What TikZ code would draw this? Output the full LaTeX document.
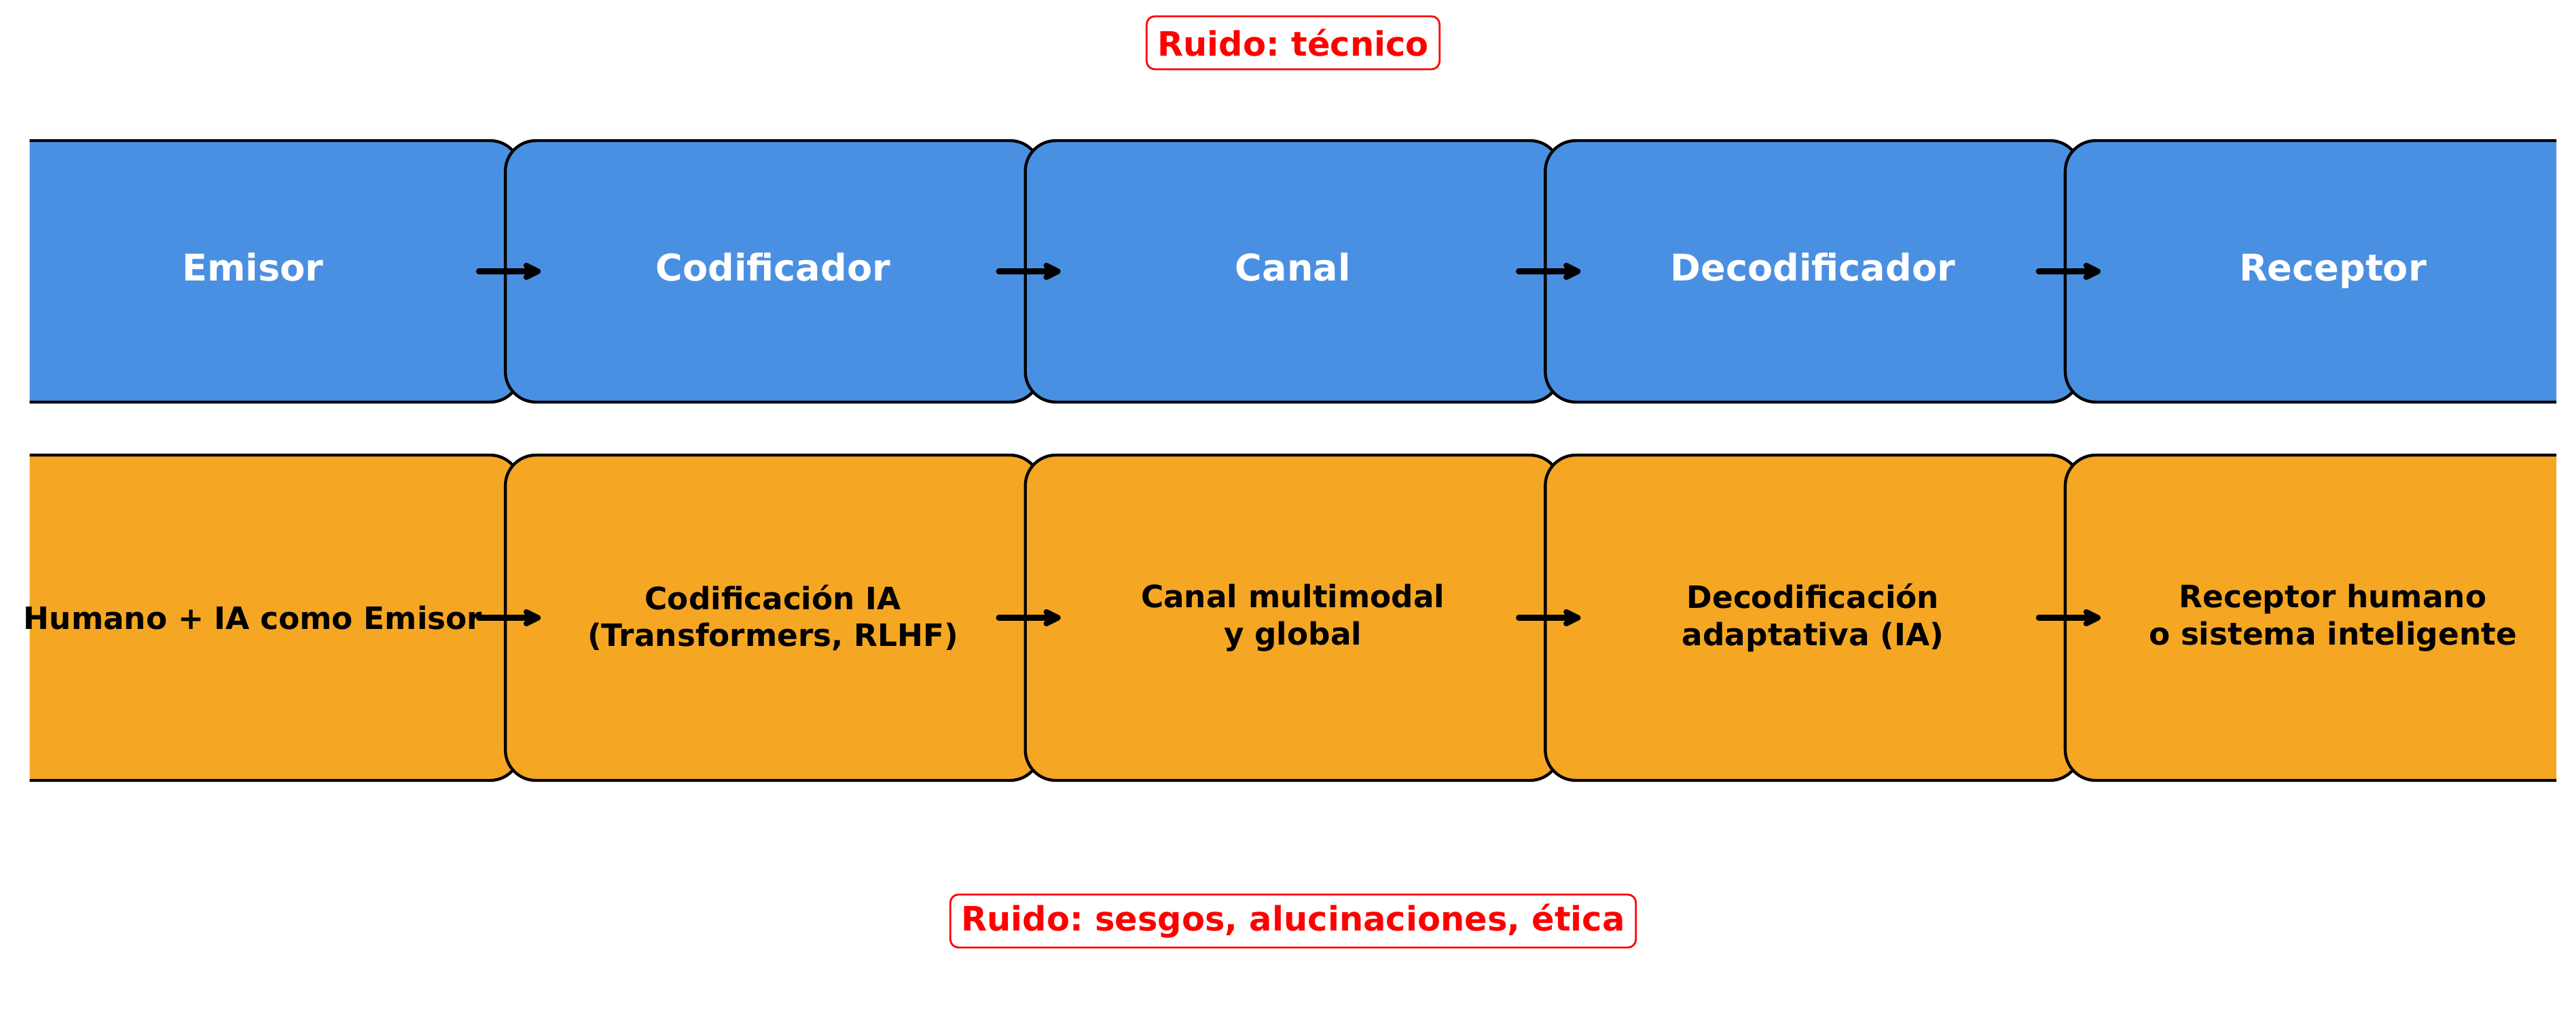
\documentclass[tikz,border=0pt]{standalone}
\usepackage{fontspec}
\setmainfont{DejaVu Sans}
\usetikzlibrary{arrows.meta,positioning}
\frenchspacing

\definecolor{cAzul}{HTML}{4A90E2}
\definecolor{cNaranja}{HTML}{F5A623}

\tikzset{
  cajaArriba/.style={draw=black, line width=1.25pt, fill=cAzul, rounded corners=0.45cm,
    minimum width=7.88cm, minimum height=3.85cm, inner sep=0pt, outer sep=0pt},
  cajaAbajo/.style={cajaArriba, fill=cNaranja, minimum height=4.79cm},
  textoArriba/.style={text=white, text height=0.95em, text depth=0.15em,
    font=\fontsize{15.4}{18}\selectfont\bfseries},
  textoAbajo/.style={text=black, align=center, font=\fontsize{12.9}{15.5}\selectfont\bfseries},
  ruido/.style={draw=red, text=red, line width=0.8pt, rounded corners=0.12cm, fill=white,
    inner xsep=0.16cm, minimum height=0.78cm, font=\fontsize{14.1}{17}\selectfont\bfseries},
  flecha/.style={-{Straight Barb[round,length=1.7mm,width=1.7mm]}, line width=2.35pt, line cap=round},
}

\begin{document}
\begin{tikzpicture}
        \useasboundingbox (0,0) rectangle (37.93,-14.87);

        \coordinate (cEmiPt) at (3.725,-3.995);
        \coordinate (cHumPt) at (3.725,-9.095);

        \begin{scope}
        \clip (0.435,0) rectangle (37.64,-14.87);
        % fila de arriba
        \node[cajaArriba] (nEmisor) at (cEmiPt) {};
        \node[cajaArriba, right=-0.224cm of nEmisor] (nCodificador) {};
        \node[cajaArriba, right=-0.224cm of nCodificador] (nCanal) {};
        \node[cajaArriba, right=-0.224cm of nCanal] (nDecodificador) {};
        \node[cajaArriba, right=-0.224cm of nDecodificador] (nReceptor) {};
        % fila de abajo
        \node[cajaAbajo] (nHumano) at (cHumPt) {};
        \node[cajaAbajo, right=-0.224cm of nHumano] (nCodIA) {};
        \node[cajaAbajo, right=-0.224cm of nCodIA] (nMultimodal) {};
        \node[cajaAbajo, right=-0.224cm of nMultimodal] (nDecIA) {};
        \node[cajaAbajo, right=-0.224cm of nDecIA] (nSistema) {};
        \end{scope}

        \node[textoArriba] at (nEmisor) {Emisor};
        \node[textoArriba] at (nCodificador) {Codificador};
        \node[textoArriba] at (nCanal) {Canal};
        \node[textoArriba] at (nDecodificador) {Decodificador};
        \node[textoArriba] at (nReceptor) {Receptor};

        \node[textoAbajo] at (nHumano) {Humano + IA como Emisor};
        \node[textoAbajo] at (nCodIA) {Codificación IA\\(Transformers, RLHF)};
        \node[textoAbajo] at (nMultimodal) {Canal multimodal\\y global};
        \node[textoAbajo] at (nDecIA) {Decodificación\\adaptativa (IA)};
        \node[textoAbajo] at (nSistema) {Receptor humano\\o sistema inteligente};

        \draw[flecha] ([xshift=3.325cm]nEmisor.center) -- ([xshift=-3.42cm]nCodificador.center);
        \draw[flecha] ([xshift=3.325cm]nCodificador.center) -- ([xshift=-3.42cm]nCanal.center);
        \draw[flecha] ([xshift=3.325cm]nCanal.center) -- ([xshift=-3.42cm]nDecodificador.center);
        \draw[flecha] ([xshift=3.325cm]nDecodificador.center) -- ([xshift=-3.42cm]nReceptor.center);

        \draw[flecha] ([xshift=3.325cm]nHumano.center) -- ([xshift=-3.42cm]nCodIA.center);
        \draw[flecha] ([xshift=3.325cm]nCodIA.center) -- ([xshift=-3.42cm]nMultimodal.center);
        \draw[flecha] ([xshift=3.325cm]nMultimodal.center) -- ([xshift=-3.42cm]nDecIA.center);
        \draw[flecha] ([xshift=3.325cm]nDecIA.center) -- ([xshift=-3.42cm]nSistema.center);

        \node[ruido] (nRuidoTec) at (19.04,-0.63) {Ruido: técnico};
        \node[ruido] (nRuidoIA) at (19.04,-13.56) {Ruido: sesgos, alucinaciones, ética};
\end{tikzpicture}
\end{document}
